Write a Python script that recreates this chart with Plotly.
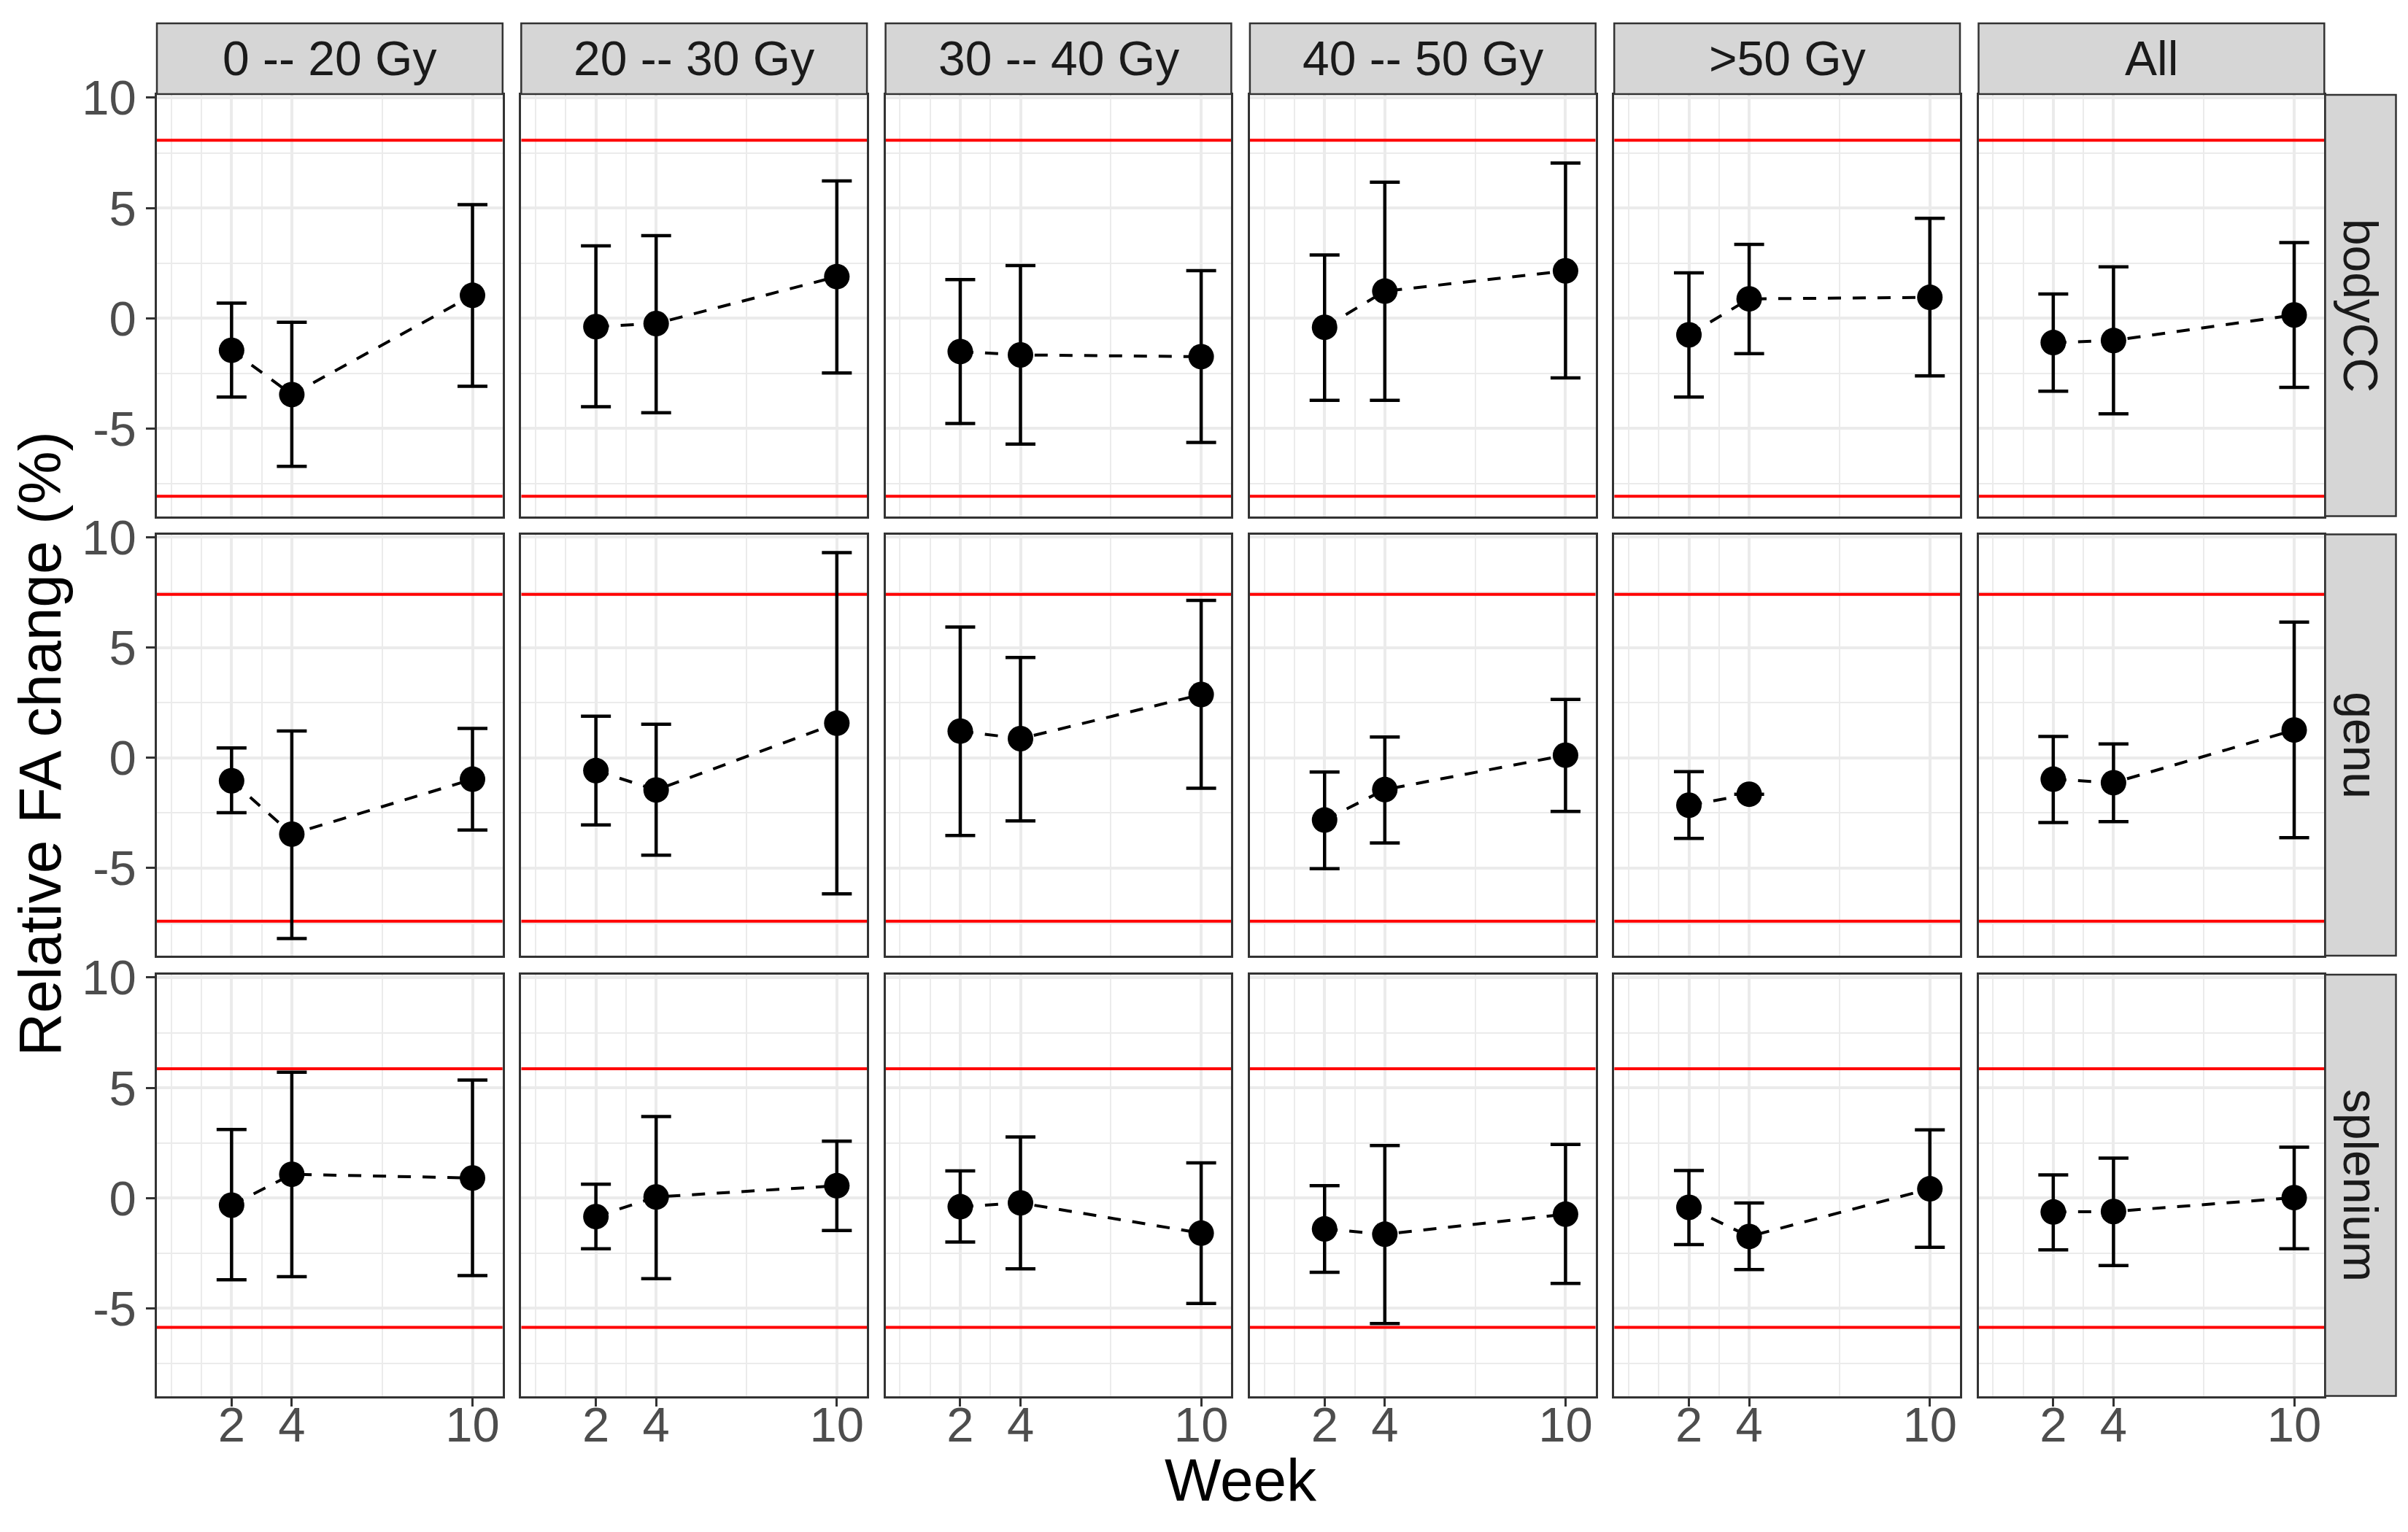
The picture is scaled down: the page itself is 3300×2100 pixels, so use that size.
import plotly.graph_objects as go

W, H = 3300, 2100

weeks = [2, 4, 10]
dose_groups = ["0 -- 20 Gy", "20 -- 30 Gy", "30 -- 40 Gy", "40 -- 50 Gy", ">50 Gy", "All"]
regions = ["bodyCC", "genu", "splenium"]
thresholds = [8.07, 7.41, 5.86]

bodycc_mean = [[-1.45, -3.46, 1.04], [-0.38, -0.24, 1.89], [-1.51, -1.66, -1.74],
               [-0.41, 1.23, 2.15], [-0.75, 0.88, 0.95], [-1.10, -1.01, 0.15]]
bodycc_lower = [[-3.57, -6.71, -3.08], [-4.01, -4.28, -2.48], [-4.77, -5.70, -5.63],
                [-3.72, -3.72, -2.70], [-3.57, -1.60, -2.61], [-3.31, -4.33, -3.13]]
bodycc_upper = [[0.69, -0.18, 5.15], [3.28, 3.75, 6.23], [1.75, 2.39, 2.16],
                [2.87, 6.17, 7.04], [2.06, 3.35, 4.53], [1.10, 2.33, 3.43]]

genu_mean = [[-1.04, -3.46, -0.97], [-0.58, -1.46, 1.57], [1.21, 0.87, 2.87],
             [-2.82, -1.44, 0.12], [-2.15, -1.65, None], [-0.97, -1.13, 1.26]]
genu_lower = [[-2.49, -8.19, -3.27], [-3.04, -4.41, -6.17], [-3.52, -2.86, -1.38],
              [-5.03, -3.86, -2.43], [-3.65, None, None], [-2.93, -2.89, -3.62]]
genu_upper = [[0.45, 1.22, 1.33], [1.89, 1.52, 9.30], [5.93, 4.55, 7.14],
              [-0.64, 0.94, 2.65], [-0.63, None, None], [0.97, 0.63, 6.15]]

splenium_mean = [[-0.32, 1.08, 0.91], [-0.84, 0.05, 0.56], [-0.39, -0.22, -1.59],
                 [-1.40, -1.64, -0.73], [-0.42, -1.74, 0.42], [-0.63, -0.61, 0.02]]
splenium_lower = [[-3.70, -3.56, -3.51], [-2.30, -3.65, -1.47], [-1.99, -3.21, -4.78],
                  [-3.36, -5.69, -3.87], [-2.11, -3.24, -2.23], [-2.35, -3.06, -2.30]]
splenium_upper = [[3.11, 5.71, 5.35], [0.63, 3.70, 2.58], [1.23, 2.77, 1.60],
                  [0.56, 2.38, 2.43], [1.25, -0.22, 3.09], [1.05, 1.81, 2.31]]

x_ticks = [2, 4, 10]
x_minor = [0, 1, 3, 7]
y_ticks = [-5, 0, 5, 10]
y_minor = [-7.5, -2.5, 2.5, 7.5]
x_range = [-0.48, 11.0]
y_range = [-8.97, 10.13]

means = [bodycc_mean, genu_mean, splenium_mean]
lowers = [bodycc_lower, genu_lower, splenium_lower]
uppers = [bodycc_upper, genu_upper, splenium_upper]

FONT = "Liberation Sans, Arial, sans-serif"
GRID = "#EBEBEB"
BORDER = "#333333"
STRIP = "#D6D6D6"

# layout geometry (pixels)
left0, pitch_x, pw = 207.0, 499.3, 473.8
tops = [122.0, 724.5, 1328.0]
ph = 577.5
strip_top, strip_bot = 24.0, 121.0
rstrip_l, rstrip_r = 3178.5, 3275.5


def fx(p):
    return p / W


def fy(p):
    return 1 - p / H


fig = go.Figure()
layout = {}
shapes = []
annotations = []

for r in range(3):
    for c in range(6):
        k = r * 6 + c + 1
        xa = "x" if k == 1 else f"x{k}"
        ya = "y" if k == 1 else f"y{k}"
        # threshold lines (red)
        for t in (thresholds[r], -thresholds[r]):
            fig.add_trace(go.Scatter(
                x=x_range, y=[t, t], mode="lines", xaxis=xa, yaxis=ya,
                line=dict(color="#FF0000", width=4), showlegend=False, hoverinfo="skip",
            ))
        m = means[r][c]
        lo = lowers[r][c]
        up = uppers[r][c]
        plus = [(u - v) if (u is not None and v is not None) else None for u, v in zip(up, m)]
        minus = [(v - l) if (l is not None and v is not None) else None for l, v in zip(lo, m)]
        fig.add_trace(go.Scatter(
            x=weeks, y=m, mode="lines+markers", xaxis=xa, yaxis=ya,
            line=dict(color="black", width=4, dash="18px,16px"),
            marker=dict(color="black", size=35),
            error_y=dict(type="data", array=plus, arrayminus=minus, symmetric=False,
                         color="black", thickness=4.5, width=20.5),
            showlegend=False, hoverinfo="skip", connectgaps=False,
        ))
        x0 = left0 + c * pitch_x
        x1 = x0 + pw
        y0 = tops[r]
        y1 = y0 + ph
        axis_common = dict(showline=True, mirror=True, linecolor=BORDER, linewidth=2.5,
                           zeroline=False, showgrid=True, gridcolor=GRID, gridwidth=4,
                           tickcolor=BORDER, tickwidth=2.5, ticklen=12, automargin=False,
                           tickfont=dict(family=FONT, size=67, color="#4D4D4D"))
        layout["xaxis" if k == 1 else f"xaxis{k}"] = dict(
            axis_common, domain=[fx(x0), fx(x1)], anchor=ya, range=x_range,
            tickmode="array", tickvals=x_ticks, ticktext=[str(t) for t in x_ticks],
            showticklabels=(r == 2), ticks="outside" if r == 2 else "",
            ticklabelstandoff=-33,
            minor=dict(tickvals=x_minor, showgrid=True, gridcolor=GRID, gridwidth=2, ticks=""),
        )
        layout["yaxis" if k == 1 else f"yaxis{k}"] = dict(
            axis_common, domain=[fy(y1), fy(y0)], anchor=xa, range=y_range,
            tickmode="array", tickvals=y_ticks, ticktext=[str(t) for t in y_ticks],
            showticklabels=(c == 0), ticks="outside" if c == 0 else "",
            minor=dict(tickvals=y_minor, showgrid=True, gridcolor=GRID, gridwidth=2, ticks=""),
        )

# column strips
for c in range(6):
    x0 = left0 + c * pitch_x
    x1 = x0 + pw
    shapes.append(dict(type="rect", xref="paper", yref="paper", x0=fx(x0), x1=fx(x1),
                       y0=fy(strip_bot), y1=fy(strip_top), fillcolor=STRIP,
                       line=dict(color=BORDER, width=2.5), layer="above"))
    annotations.append(dict(text=dose_groups[c], xref="paper", yref="paper",
                            x=fx((x0 + x1) / 2), y=fy((strip_top + strip_bot) / 2),
                            xanchor="center", yanchor="middle", showarrow=False,
                            font=dict(family=FONT, size=66, color="#1A1A1A")))

# row strips
for r in range(3):
    y0 = tops[r]
    y1 = y0 + ph
    shapes.append(dict(type="rect", xref="paper", yref="paper", x0=fx(rstrip_l), x1=fx(rstrip_r),
                       y0=fy(y1), y1=fy(y0), fillcolor=STRIP,
                       line=dict(color=BORDER, width=2.5), layer="above"))
    annotations.append(dict(text=regions[r], xref="paper", yref="paper",
                            x=fx((rstrip_l + rstrip_r) / 2), y=fy((y0 + y1) / 2),
                            xanchor="center", yanchor="middle", showarrow=False, textangle=90,
                            font=dict(family=FONT, size=66, color="#1A1A1A")))

# axis titles
annotations.append(dict(text="Week", xref="paper", yref="paper", x=fx(1692), y=fy(2020),
                        xanchor="center", yanchor="middle", showarrow=False,
                        font=dict(family=FONT, size=82, color="black")))
annotations.append(dict(text="Relative FA change (%)", xref="paper", yref="paper",
                        x=fx(47), y=fy(1012), xanchor="center", yanchor="middle",
                        showarrow=False, textangle=-90,
                        font=dict(family=FONT, size=82, color="black")))

fig.update_layout(**layout)
fig.update_layout(width=W, height=H,
                  margin=dict(l=0, r=0, t=0, b=0, pad=0, autoexpand=False),
                  paper_bgcolor="white", plot_bgcolor="white",
                  shapes=shapes, annotations=annotations, showlegend=False)

fig.write_html("out.html")
